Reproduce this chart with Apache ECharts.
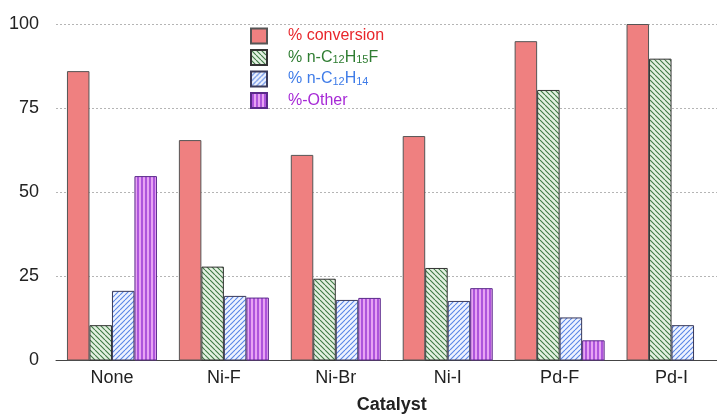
<!DOCTYPE html>
<html><head><meta charset="utf-8">
<script src="https://cdn.jsdelivr.net/npm/echarts@6/dist/echarts.min.js"></script>
<style>html,body{margin:0;padding:0;background:#fff}#c{width:717px;height:417px}</style>
</head><body><div id="c"></div>
<script>
const categories = ['None','Ni-F','Ni-Br','Ni-I','Pd-F','Pd-I'];
const conversion = [86.0, 65.5, 61.1, 66.7, 94.9, 100];
const fluoride = [10.5, 27.9, 24.3, 27.5, 80.4, 89.7];
const alkene = [20.7, 19.2, 18.0, 17.7, 12.8, 10.5];
const other = [54.8, 18.7, 18.6, 21.5, 6.0, null];
const seriesNames = ['% conversion','% n-C12H15F','% n-C12H14','%-Other'];
const yTicks = [0, 25, 50, 75, 100];

function pattern(kind, bg, fg, s, lw) {
  const c = document.createElement('canvas');
  c.width = s; c.height = s;
  const x = c.getContext('2d');
  x.fillStyle = bg; x.fillRect(0,0,s,s);
  x.strokeStyle = fg; x.lineWidth = lw;
  x.beginPath();
  if (kind === 'back') {
    for (const k of [-s,0,s]) { x.moveTo(k,0); x.lineTo(k+s,s); }
  } else if (kind === 'fwd') {
    for (const k of [-s,0,s]) { x.moveTo(k+s,0); x.lineTo(k,s); }
  } else {
    x.moveTo(s/2,0); x.lineTo(s/2,s);
  }
  x.stroke();
  return {image: c, repeat: 'repeat'};
}
const greenPat = pattern('back', '#e4f1e2', '#3f7a45', 5, 1.1);
const bluePat = pattern('fwd', '#eef3ff', '#5a86e6', 5, 1.1);
const purplePat = pattern('vert', '#e7a3f3', '#8e2ccf', 4, 1.3);

const chart = echarts.init(document.getElementById('c'), null, {renderer:'canvas'});
const font = 'Liberation Sans, Arial, sans-serif';
const labelMap = {
  '% conversion': '{r|% conversion}',
  '% n-C12H15F': '{g|% n-C}{gs|12}{g|H}{gs|15}{g|F}',
  '% n-C12H14': '{b|% n-C}{bs|12}{b|H}{bs|14}',
  '%-Other': '{p|%-Other}'
};
function mk(name, data, color, border) {
  return {
    name, type:'bar', data, barWidth: 22.5, barGap: '0%',
    itemStyle: {color, borderColor: border, borderWidth: 1},
    emphasis: {disabled: true}
  };
}
const fs = 16;
chart.setOption({
  animation: false,
  textStyle: {fontFamily: font},
  grid: {left: 56, right: -10.5, top: 24, bottom: 56.5, containLabel: false, outerBoundsMode: 'none'},
  legend: {
    orient: 'vertical', left: 250, top: 27.5, padding: 0, itemWidth: 16, itemHeight: 15, itemGap: 4.5,
    icon: 'rect',
    data: seriesNames,
    formatter: n => labelMap[n],
    textStyle: {
      fontFamily: font, fontSize: fs, padding: [0,0,0,16], lineHeight: 15,
      rich: {
        r: {color:'#e8262b', fontSize:fs, fontFamily: font, lineHeight: 15},
        g: {color:'#2f7d32', fontSize:fs, fontFamily: font, lineHeight: 15},
        gs: {color:'#2f7d32', fontSize:11, fontFamily: font, lineHeight: 10, padding:[5,0,0,0]},
        b: {color:'#3f7ce8', fontSize:fs, fontFamily: font, lineHeight: 15},
        bs: {color:'#3f7ce8', fontSize:11, fontFamily: font, lineHeight: 10, padding:[5,0,0,0]},
        p: {color:'#a629d6', fontSize:fs, fontFamily: font, lineHeight: 15}
      }
    }
  },
  xAxis: {
    type: 'category', data: categories,
    axisLine: {lineStyle: {color:'#444', width: 1}},
    axisTick: {show: false},
    axisLabel: {color:'#222', fontSize: 18, margin: 9, fontFamily: font},
    name: 'Catalyst', nameLocation: 'middle', nameGap: 36,
    nameTextStyle: {color:'#222', fontSize: 18, fontWeight: 'bold', fontFamily: font}
  },
  yAxis: {
    type: 'value', min: yTicks[0], max: yTicks[yTicks.length-1], interval: 25,
    axisLine: {show: false}, axisTick: {show: false},
    axisLabel: {color:'#222', fontSize: 18, margin: 17, fontFamily: font},
    splitLine: {lineStyle: {color:'#b5b5b5', type: [2,2], width: 1}}
  },
  series: [
    mk(seriesNames[0], conversion, '#ef8080', '#555'),
    mk(seriesNames[1], fluoride, greenPat, '#333'),
    mk(seriesNames[2], alkene, bluePat, '#3a3a5a'),
    mk(seriesNames[3], other, purplePat, '#5a2a8a')
  ]
});
</script></body></html>
